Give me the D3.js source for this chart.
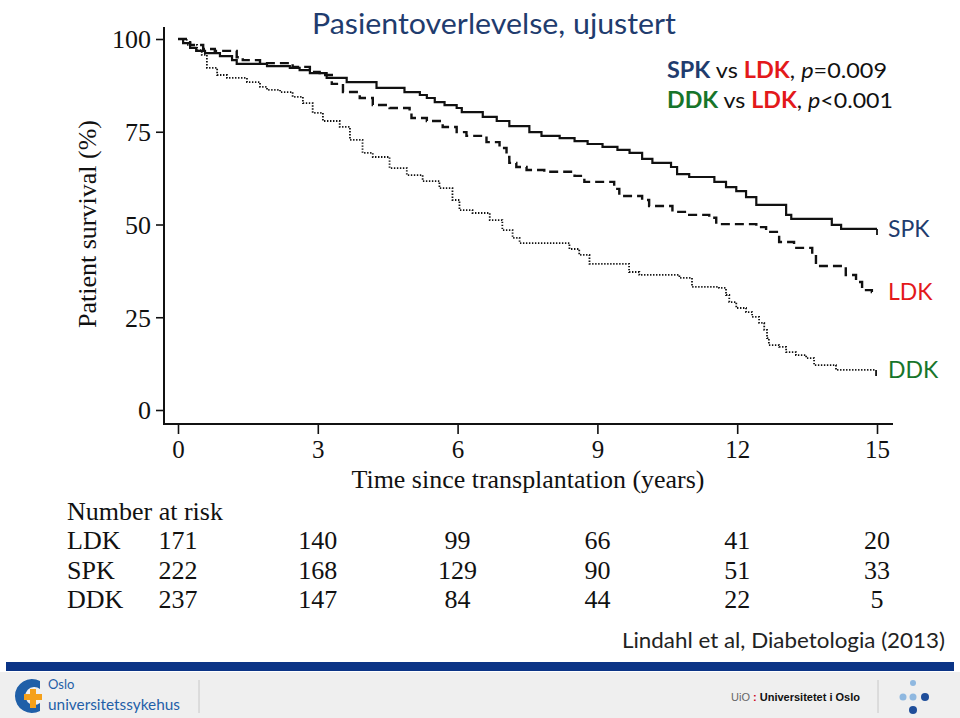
<!DOCTYPE html>
<html><head><meta charset="utf-8">
<script src="https://cdn.jsdelivr.net/npm/d3@7"></script>
<style>body{margin:0;background:#fff;}svg{display:block;}</style>
</head><body>
<svg id="c" width="960" height="718"></svg>
<script>
// ---- data (Kaplan-Meier step points: time in years, survival %) ----
const spkTimes = [0,0.11,0.26,0.39,0.58,0.90,1.16,1.26,1.91,2.40,2.61,2.83,3.19,3.62,4.26,4.86,5.19,5.34,5.51,5.72,5.98,6.09,6.54,6.84,7.11,7.54,7.80,8.19,8.51,8.79,9.11,9.43,9.69,9.96,10.18,10.58,10.71,10.97,11.51,11.76,11.98,12.19,12.41,13.05,13.16,14.03,14.23,15];
const spkSurv  = [100,98.9,97.6,96.8,96.2,95.4,94.3,93.3,92.7,92.2,91.6,90.8,89.5,88.4,86.8,85.7,84.9,84.1,83.0,82.2,81.4,80.3,79.0,77.9,76.5,74.9,73.9,73.3,72.5,71.7,70.9,70.1,69.3,67.7,66.6,65.5,63.6,62.8,61.5,60.1,59.0,57.4,55.3,52.6,51.5,49.9,48.8,48.8];

const ldkTimes = [0,0.26,0.54,0.79,1.26,1.39,1.76,2.46,2.83,3.04,3.30,3.54,3.90,4.18,4.54,4.97,5.01,5.34,5.68,5.98,6.19,6.62,6.90,7.05,7.11,7.26,7.48,7.86,8.51,8.72,9.36,9.47,9.96,10.11,10.61,10.97,11.40,11.55,12.41,12.62,12.90,13.22,13.61,13.69,14.33,14.55,14.68,14.89,15];
const ldkSurv  = [100,98.4,97.3,96.8,95.1,94.3,93.5,92.5,91.1,90.3,87.9,85.7,84.1,82.2,81.4,80.1,78.7,77.9,76.3,74.9,73.9,72.2,70.6,68.2,66.6,65.5,64.7,64.2,63.1,61.5,59.6,57.7,56.6,55.0,53.4,52.6,51.8,50.1,49.3,48.0,45.3,43.7,41.8,38.8,36.4,34.5,32.3,31.8,31.8];

const ddkTimes = [0,0.19,0.41,0.51,0.62,0.84,1.05,1.48,1.76,1.91,2.19,2.46,2.68,2.89,3.11,3.47,3.69,3.96,4.18,4.54,4.91,5.25,5.61,5.89,6.04,6.32,6.69,6.96,7.18,7.33,8.40,8.61,8.83,9.68,9.90,10.76,11.03,11.61,11.76,11.83,11.98,12.19,12.32,12.47,12.58,12.64,12.68,12.90,13.05,13.26,13.48,13.65,14.12,14.98];
const ddkSurv  = [100,98.4,97.0,95.7,92.2,90.3,89.5,88.4,87.1,86.3,85.7,84.4,82.7,80.1,77.9,76.3,72.8,69.3,68.2,65.2,63.3,61.7,59.8,56.6,53.9,53.1,51.2,48.5,46.4,45.0,43.4,41.8,39.4,37.2,36.4,35.6,33.2,32.9,31.0,29.1,27.5,26.4,25.1,23.5,21.6,19.4,17.5,17.0,15.6,14.8,14.0,12.1,10.8,10.8];

const xTicks = [0,3,6,9,12,15];
const yTicks = [0,25,50,75,100];
const riskGroups = ["LDK","SPK","DDK"];
const riskLDK = [171,140,99,66,41,20];
const riskSPK = [222,168,129,90,51,33];
const riskDDK = [237,147,84,44,22,5];

const NAVY = "#1F3C6E", RED = "#E3191B", GREEN = "#17752A";
const SERIF = "'Liberation Serif','Times New Roman',serif";
const SANS = "Lato,'Open Sans',sans-serif";

const svg = d3.select("#c");
svg.append("rect").attr("width",960).attr("height",718).attr("fill","#fff");

const x = d3.scaleLinear().domain([0,15]).range([178,877]);
const y = d3.scaleLinear().domain([0,100]).range([410,39]);

// axes
const yAx = svg.append("g").attr("transform","translate(164,0)")
  .call(d3.axisLeft(y).tickValues(yTicks).tickSize(8).tickPadding(5).tickSizeOuter(0));
yAx.select(".domain").remove();
yAx.selectAll("line").attr("stroke","#111").attr("stroke-width",1.6);
yAx.selectAll("text").attr("font-family",SERIF).attr("font-size",26).attr("fill","#111").attr("dy","0.34em");
svg.append("line").attr("x1",164).attr("x2",164).attr("y1",27).attr("y2",424.5).attr("stroke","#111").attr("stroke-width",2);

const xAx = svg.append("g").attr("transform","translate(0,424)")
  .call(d3.axisBottom(x).tickValues(xTicks).tickSize(10).tickPadding(6).tickSizeOuter(0));
xAx.select(".domain").remove();
xAx.selectAll("line").attr("stroke","#111").attr("stroke-width",1.6);
xAx.selectAll("text").attr("font-family",SERIF).attr("font-size",25).attr("fill","#111");
svg.append("line").attr("x1",163).attr("x2",893).attr("y1",424).attr("y2",424).attr("stroke","#111").attr("stroke-width",2);

svg.append("text").attr("x",528).attr("y",488).attr("text-anchor","middle")
  .attr("font-family",SERIF).attr("font-size",25).attr("fill","#111")
  .attr("textLength",353).attr("lengthAdjust","spacingAndGlyphs")
  .text("Time since transplantation (years)");
svg.append("text").attr("transform","translate(96,224) rotate(-90)").attr("text-anchor","middle")
  .attr("font-family",SERIF).attr("font-size",26).attr("fill","#111")
  .text("Patient survival (%)");

// curves
const line = d3.line().x(d=>x(d[0])).y(d=>y(d[1])).curve(d3.curveStepAfter);
const series = [
  {t:ldkTimes, s:ldkSurv, dash:"9,5", w:2.4, tick:false},
  {t:ddkTimes, s:ddkSurv, dash:"1.4,1.6", w:1.8, tick:true},
  {t:spkTimes, s:spkSurv, dash:null, w:2.2, tick:true}
];
series.forEach(sr=>{
  const pts = sr.t.map((t,i)=>[t, sr.s[i]]);
  svg.append("path").attr("d",line(pts)).attr("fill","none").attr("stroke","#111")
    .attr("stroke-width",sr.w).attr("stroke-dasharray",sr.dash);
  if (sr.tick) {
    const last = pts[pts.length-1];
    svg.append("line").attr("x1",x(last[0])).attr("x2",x(last[0]))
      .attr("y1",y(last[1])).attr("y2",y(last[1])+6).attr("stroke","#111").attr("stroke-width",1.8);
  }
});

// end labels
const endLab = [["SPK",spkSurv,NAVY],["LDK",ldkSurv,RED],["DDK",ddkSurv,GREEN]];
endLab.forEach(([n,s,c])=>{
  svg.append("text").attr("x",888).attr("y",y(s[s.length-1])+8)
    .attr("font-family",SANS).attr("font-size",23).attr("fill",c).text(n);
});

// title
svg.append("text").attr("x",312).attr("y",34).attr("font-family",SANS).attr("font-size",28)
  .attr("fill",NAVY).attr("textLength",364).attr("lengthAdjust","spacingAndGlyphs")
  .text("Pasientoverlevelse, ujustert");

// p-value legend
function legendLine(yy, g, gc, p, len){
  const t = svg.append("text").attr("x",667).attr("y",yy).attr("font-family",SANS).attr("font-size",22)
    .attr("fill","#111").attr("textLength",len).attr("lengthAdjust","spacingAndGlyphs");
  t.append("tspan").attr("font-weight","bold").attr("fill",gc).text(g);
  t.append("tspan").text(" vs ");
  t.append("tspan").attr("font-weight","bold").attr("fill",RED).text("LDK");
  t.append("tspan").text(", ");
  t.append("tspan").attr("font-style","italic").text("p");
  t.append("tspan").text(p);
}
legendLine(78,"SPK",NAVY,"=0.009",220);
legendLine(108,"DDK",GREEN,"<0.001",226);

// number at risk
svg.append("text").attr("x",67).attr("y",520).attr("font-family",SERIF).attr("font-size",26)
  .attr("fill","#111").text("Number at risk");
const riskRows = [riskLDK, riskSPK, riskDDK];
riskGroups.forEach((g,i)=>{
  const yy = 549 + i*29.5;
  svg.append("text").attr("x",67).attr("y",yy).attr("font-family",SERIF).attr("font-size",26)
    .attr("fill","#111").text(g);
  riskRows[i].forEach((v,j)=>{
    svg.append("text").attr("x",x(xTicks[j])).attr("y",yy).attr("text-anchor","middle")
      .attr("font-family",SERIF).attr("font-size",26).attr("fill","#111").text(v);
  });
});

// citation
svg.append("text").attr("x",945).attr("y",648).attr("text-anchor","end").attr("font-family",SANS)
  .attr("font-size",22).attr("fill","#222").attr("textLength",323).attr("lengthAdjust","spacingAndGlyphs")
  .text("Lindahl et al, Diabetologia (2013)");

// footer
svg.append("rect").attr("x",6).attr("y",662).attr("width",948).attr("height",9).attr("fill","#0B3486");
svg.append("rect").attr("x",0).attr("y",672).attr("width",960).attr("height",46).attr("fill","#EFEFEF");
// OUS logo
svg.append("path").attr("d","M40,681 A17,17 0 1 0 40,711 L40,703 A9,9 0 1 1 40,689 Z").attr("fill","#1F5FA8");
svg.append("path").attr("d","M24,694 h6 v-5 h6 v5 h6 v6 h-6 v8 h-6 v-8 h-6 z").attr("fill","#F5A01A");
svg.append("text").attr("x",48).attr("y",689).attr("font-family",SANS).attr("font-size",13).attr("fill","#1F5FA8").text("Oslo");
svg.append("text").attr("x",48).attr("y",710).attr("font-family",SANS).attr("font-size",15).attr("fill","#1F5FA8")
  .attr("textLength",132).attr("lengthAdjust","spacingAndGlyphs").text("universitetssykehus");
svg.append("line").attr("x1",199).attr("x2",199).attr("y1",680).attr("y2",713).attr("stroke","#c8c8c8");
svg.append("line").attr("x1",878).attr("x2",878).attr("y1",680).attr("y2",713).attr("stroke","#c8c8c8");
// UiO
const u = svg.append("text").attr("x",731).attr("y",701).attr("font-family","'Liberation Sans',Arial,sans-serif").attr("font-size",11);
u.append("tspan").attr("fill","#666").text("UiO");
u.append("tspan").attr("fill","#D0021B").attr("font-weight","bold").text(" : ");
u.append("tspan").attr("fill","#111").attr("font-weight","bold").text("Universitetet i Oslo");
// dots logo
[[913,683,3,"#8FB8E0"],[903,697,3.5,"#8FB8E0"],[913,697,3.5,"#8FB8E0"],[925,697,4,"#1F4E9A"],[913,710,4,"#1F4E9A"]]
  .forEach(([cx,cy,r,c])=>svg.append("circle").attr("cx",cx).attr("cy",cy).attr("r",r).attr("fill",c));
</script>
</body></html>
